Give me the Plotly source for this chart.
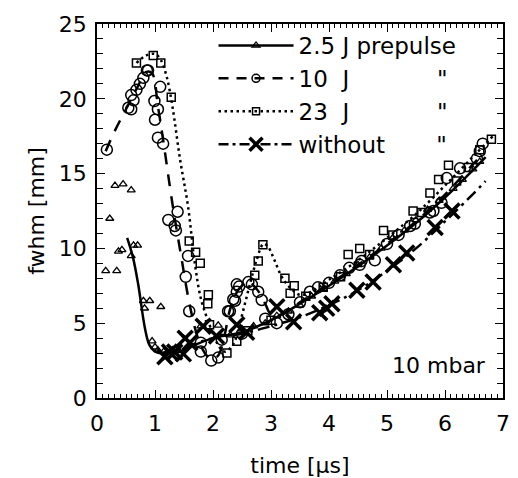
import plotly.graph_objects as go

# ---------------- data ----------------
# 2.5 J prepulse : measured points (triangles) and fit (solid)
tri_x = [0.15, 0.22, 0.31, 0.34, 0.37, 0.43, 0.45, 0.59, 0.59, 0.63, 0.70, 0.80, 0.82, 0.91, 1.10,
         0.95, 1.00, 1.05, 1.15, 1.30, 1.60, 1.79, 2.09, 2.30, 2.50, 2.70, 2.90, 3.10, 3.30, 3.50,
         3.70, 3.90, 4.10, 4.30, 4.50, 4.70, 4.90, 5.10, 5.30, 5.50, 5.70, 5.90, 6.14, 6.30, 6.48, 6.60]
tri_y = [8.5, 12.0, 14.2, 8.5, 9.8, 9.9, 14.3, 13.9, 9.5, 10.2, 10.2, 6.5, 6.0, 6.5, 6.1,
         3.8, 3.4, 3.2, 3.1, 3.2, 3.6, 4.8, 4.85, 4.2, 4.6, 4.8, 5.0, 5.5, 5.8, 6.2,
         6.8, 7.3, 7.8, 8.3, 8.9, 9.4, 10.0, 10.7, 11.2, 11.9, 12.6, 13.2, 14.0, 14.6, 15.3, 15.8]
fit25_x = [0.52, 0.62, 0.71, 0.83, 0.91, 1.03, 1.20, 1.40, 1.60, 2.00, 2.50, 3.00, 3.50, 4.00,
           4.50, 5.00, 5.50, 6.00, 6.50, 6.70]
fit25_y = [10.7, 9.4, 7.6, 4.6, 3.5, 3.05, 3.0, 3.05, 3.4, 4.0, 4.4, 5.2, 6.3, 7.5,
           8.8, 10.2, 11.7, 13.4, 15.3, 16.1]

# 10 J : circles and dashed fit
cir_x = [0.17, 0.54, 0.59, 0.63, 0.59, 0.68, 0.74, 0.80, 0.86, 0.88, 1.09, 0.99, 1.05, 1.00, 1.05,
         1.14, 1.39, 1.23, 1.34, 1.36, 1.57, 1.53, 1.59, 1.79, 1.79, 1.97, 2.09, 2.15, 2.26, 2.29,
         2.35, 2.38, 2.41, 2.41, 2.45, 2.61, 2.67, 2.78, 2.84, 2.50, 2.90, 3.10, 3.30, 3.50, 3.67,
         3.81, 4.00, 4.19, 4.35, 4.53, 4.56, 4.79, 5.00, 5.20, 5.40, 5.48, 5.74, 5.80, 5.94, 6.03,
         6.26, 6.55, 6.60, 6.65]
cir_y = [16.6, 19.4, 19.3, 19.9, 20.25, 20.6, 21.0, 21.4, 21.9, 21.9, 20.8, 19.85, 19.3, 18.6, 17.4,
         17.0, 12.45, 11.9, 11.5, 11.2, 9.5, 8.1, 5.8, 3.7, 3.1, 2.5, 2.7, 3.9, 5.8, 5.8,
         6.6, 6.5, 7.1, 7.6, 7.45, 7.75, 7.6, 7.1, 6.55, 4.3, 5.3, 5.0, 5.6, 6.4, 7.1,
         7.4, 7.7, 8.2, 8.7, 8.9, 9.15, 9.2, 10.3, 10.9, 11.5, 11.65, 12.4, 12.5, 13.05, 14.7,
         15.35, 16.0, 16.5, 17.0]
fit10_x = [0.15, 0.30, 0.50, 0.70, 0.85, 0.95, 1.05, 1.15, 1.30, 1.45, 1.60, 1.75, 1.90, 2.00,
           2.10, 2.20, 2.30, 2.45, 2.60, 2.75, 2.90, 3.00, 3.20, 3.50, 4.00, 4.50, 5.00, 5.50,
           6.00, 6.50, 6.65]
fit10_y = [16.5, 17.8, 19.3, 20.8, 21.8, 21.7, 19.5, 17.0, 13.0, 9.5, 6.2, 3.9, 2.8, 2.6,
           2.9, 4.2, 6.0, 7.3, 7.75, 7.3, 6.3, 5.6, 5.6, 6.4, 7.6, 8.9, 10.3, 11.8,
           13.6, 15.7, 16.3]

# 23 J : squares and dotted fit
sq_x = [0.68, 0.97, 1.10, 1.28, 1.59, 1.70, 1.78, 1.92, 1.91, 1.94, 2.24, 2.41, 2.72, 2.78, 2.86,
        3.24, 3.40, 3.33, 2.60, 3.00, 3.60, 3.90, 4.20, 4.33, 4.53, 4.70, 4.94, 5.10, 5.45, 5.60,
        5.74, 5.89, 6.06, 6.20, 6.40, 6.60, 6.80]
sq_y = [22.4, 22.9, 22.4, 20.1, 10.5, 9.75, 9.0, 6.9, 6.3, 4.9, 3.0, 3.8, 8.2, 9.15, 10.25,
        8.0, 7.5, 7.0, 4.5, 5.2, 6.8, 7.4, 8.1, 9.6, 10.0, 9.6, 11.2, 10.9, 12.5, 12.4,
        13.7, 14.6, 15.55, 14.5, 15.4, 16.6, 17.3]
fit23_x = [0.68, 0.85, 1.00, 1.10, 1.20, 1.30, 1.43, 1.57, 1.69, 1.80, 1.94, 2.05, 2.20, 2.35,
           2.45, 2.55, 2.65, 2.75, 2.87, 2.95, 3.05, 3.20, 3.35, 3.50, 3.70, 4.00, 4.50, 5.00,
           5.50, 6.00, 6.50, 6.85]
fit23_y = [22.4, 22.9, 23.0, 22.6, 21.5, 19.5, 16.0, 12.8, 8.9, 6.5, 4.9, 3.8, 3.1, 3.6,
           4.8, 6.3, 7.8, 9.2, 10.3, 10.1, 9.3, 8.0, 7.3, 6.9, 7.1, 7.9, 9.2, 10.7,
           12.3, 14.2, 16.2, 17.6]

# without prepulse : crosses and dash-dot fit
x_x = [1.17, 1.25, 1.34, 1.49, 1.52, 1.60, 1.83, 2.06, 2.41, 2.58, 3.10, 3.39, 3.84, 3.96, 4.05,
       4.48, 4.76, 5.11, 5.34, 5.83, 6.12]
x_y = [2.75, 3.07, 3.07, 2.95, 4.0, 3.7, 4.8, 4.15, 4.9, 4.4, 6.1, 5.1, 5.7, 6.0, 6.3,
       7.2, 7.75, 8.9, 9.7, 11.4, 12.5]
fit0_x = [1.10, 1.50, 2.00, 2.50, 3.00, 3.50, 4.00, 4.50, 5.00, 5.50, 6.00, 6.50, 6.70]
fit0_y = [3.0, 3.4, 4.0, 4.3, 4.8, 5.4, 6.2, 7.2, 8.5, 10.0, 11.8, 13.7, 14.5]

NB = "\u00a0"
legend_names = ["2.5 J prepulse",
                "10" + NB * 2 + "J" + NB * 12 + '"',
                "23" + NB * 2 + "J" + NB * 12 + '"',
                "without" + NB * 7 + '"']
x_ticks = [0, 1, 2, 3, 4, 5, 6, 7]
y_ticks = [0, 5, 10, 15, 20, 25]

FONT = "DejaVu Sans"
K = "black"

fig = go.Figure()

# fits
fig.add_trace(go.Scatter(x=fit25_x, y=fit25_y, mode="lines", line=dict(color=K, width=2.5, shape="spline"),
                         showlegend=False, hoverinfo="skip"))
fig.add_trace(go.Scatter(x=fit10_x, y=fit10_y, mode="lines", line=dict(color=K, width=2.5, dash="12px,10px", shape="spline"),
                         showlegend=False, hoverinfo="skip"))
fig.add_trace(go.Scatter(x=fit23_x, y=fit23_y, mode="lines", line=dict(color=K, width=2.5, dash="2.5px,3.5px", shape="spline"),
                         showlegend=False, hoverinfo="skip"))
fig.add_trace(go.Scatter(x=fit0_x, y=fit0_y, mode="lines", line=dict(color=K, width=2.5, dash="12px,5px,3px,5px", shape="spline"),
                         showlegend=False, hoverinfo="skip"))

# markers
fig.add_trace(go.Scatter(x=tri_x, y=tri_y, mode="markers", showlegend=False,
                         marker=dict(symbol="triangle-up-open", size=7, color=K, line=dict(width=1.3, color=K))))
fig.add_trace(go.Scatter(x=cir_x, y=cir_y, mode="markers", showlegend=False,
                         marker=dict(symbol="circle-open", size=11, color=K, line=dict(width=1.5, color=K))))
fig.add_trace(go.Scatter(x=sq_x, y=sq_y, mode="markers", showlegend=False,
                         marker=dict(symbol="square-open", size=8, color=K, line=dict(width=1.5, color=K))))
fig.add_trace(go.Scatter(x=x_x, y=x_y, mode="markers", showlegend=False,
                         marker=dict(symbol="x-thin-open", size=15, color=K, line=dict(width=3.5, color=K))))

# legend entries
leg_styles = [
    dict(line=dict(color=K, width=2.5), marker=dict(symbol="triangle-up-open", size=7, color=K, line=dict(width=1.3, color=K))),
    dict(line=dict(color=K, width=2.5, dash="10px,8px"), marker=dict(symbol="circle-open", size=8, color=K, line=dict(width=1.5, color=K))),
    dict(line=dict(color=K, width=2.5, dash="2.5px,3.5px"), marker=dict(symbol="square-open", size=7, color=K, line=dict(width=1.5, color=K))),
    dict(line=dict(color=K, width=2.5, dash="10px,4px,3px,4px"), marker=dict(symbol="x-thin-open", size=13, color=K, line=dict(width=3.5, color=K))),
]
for i, (name, st) in enumerate(zip(legend_names, leg_styles)):
    fig.add_trace(go.Scatter(x=[None], y=[None], mode="lines+markers", name=name,
                             legendgroup=f"g{i}", **st))

fig.add_annotation(x=5.9, y=2.2, xref="x", yref="y", text="10 mbar", showarrow=False,
                   font=dict(family=FONT, size=22, color=K))

axis_common = dict(showline=True, linecolor=K, linewidth=1.5, mirror="allticks", ticks="inside",
                   ticklen=8, tickwidth=1.3, tickcolor=K, showgrid=False, zeroline=False,
                   ticklabeloverflow="allow", tickfont=dict(family=FONT, size=22, color=K))
fig.update_xaxes(range=[0, 7], tickvals=x_ticks, ticktext=[str(v) for v in x_ticks],
                 minor=dict(dtick=0.1, ticks="inside", ticklen=4, tickwidth=1, tickcolor=K, showgrid=False),
                 ticklabelstandoff=5, automargin=False,
                 title=dict(text="time [μs]", font=dict(family=FONT, size=22, color=K), standoff=24),
                 **axis_common)
fig.update_yaxes(range=[0, 25], tickvals=y_ticks, ticktext=[str(v) for v in y_ticks],
                 minor=dict(dtick=1, ticks="inside", ticklen=6, tickwidth=1, tickcolor=K, showgrid=False),
                 ticklabelstandoff=4, automargin=True,
                 title=dict(text="fwhm [mm]", font=dict(family=FONT, size=22, color=K), standoff=8),
                 **axis_common)

fig.update_layout(
    width=518, height=478, margin=dict(l=97, r=15, t=12, b=80),
    paper_bgcolor="white", plot_bgcolor="white",
    legend=dict(x=0.287, y=1.0, xanchor="left", yanchor="top", bgcolor="rgba(0,0,0,0)",
                font=dict(family=FONT, size=23, color=K), itemwidth=75, tracegroupgap=0,
                traceorder="grouped"),
    font=dict(family=FONT, color=K),
)

fig.write_html("out.html")
